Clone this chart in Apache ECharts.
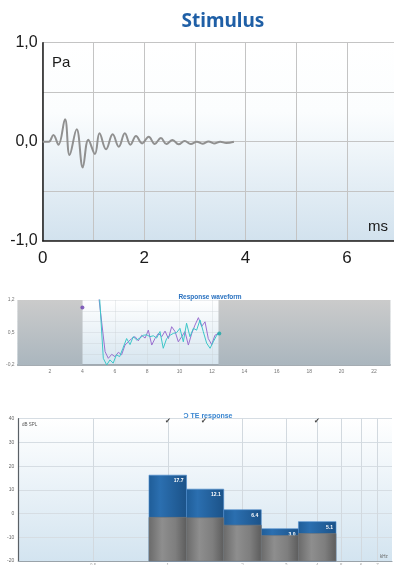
<!DOCTYPE html>
<html>
<head>
<meta charset="utf-8">
<style>html,body{margin:0;padding:0;background:#fff;}#c{width:394px;height:565px;}</style>
<script src="https://cdn.jsdelivr.net/npm/echarts@6/dist/echarts.min.js"></script>
</head>
<body>
<div id="c"></div>
<script>
// ---- Stimulus (top) ----
const stimTime = [0, 0.12, 0.21, 0.31, 0.44, 0.53, 0.67, 0.79, 0.90, 1.03, 1.12, 1.25, 1.38, 1.50, 1.62, 1.73, 1.84, 1.96, 2.09, 2.21, 2.33, 2.44, 2.56, 2.68, 2.80, 2.92, 3.04, 3.15, 3.27, 3.38, 3.50, 3.62, 3.77];
const stimPa   = [0, 0, 0.068, -0.03, 0.226, -0.134, 0.125, -0.26, 0.02, -0.124, 0.085, -0.077, 0.074, -0.05, 0.085, -0.03, 0.057, -0.017, 0.05, -0.023, 0.037, -0.023, 0.017, -0.027, 0.007, -0.023, 0.0, -0.02, 0.003, -0.017, 0.0, -0.013, 0.0];
const stimYTickLabels = {'-1': '-1,0', '0': '0,0', '1': '1,0'};

// ---- Response waveform (middle) ----
const respATime = [4.9, 5.40, 5.60, 5.81, 6.01, 6.22, 6.42, 6.63, 6.84, 7.04, 7.25, 7.45, 7.66, 7.87, 8.07, 8.28, 8.48, 8.69, 8.90, 9.10, 9.31, 9.51, 9.72, 9.92, 10.13, 10.33, 10.54, 10.75, 10.95, 11.16, 11.36, 11.57, 11.77, 11.98, 12.18, 12.39];
const respAmPa = [1.6, 0.087, -0.056, 0.03, -0.02, 0.073, 0.02, 0.23, 0.30, 0.37, 0.41, 0.32, 0.44, 0.38, 0.55, 0.23, 0.37, 0.48, 0.41, 0.53, 0.37, 0.625, 0.52, 0.30, 0.41, 0.52, 0.23, 0.48, 0.66, 0.82, 0.63, 0.73, 0.37, 0.24, 0.44, 0.48];
const respBTime = [5.0, 5.29, 5.50, 5.70, 5.90, 6.10, 6.30, 6.50, 6.73, 6.94, 7.14, 7.35, 7.55, 7.76, 7.97, 8.17, 8.38, 8.58, 8.79, 8.99, 9.20, 9.41, 9.61, 9.82, 10.02, 10.23, 10.43, 10.64, 10.85, 11.05, 11.26, 11.46, 11.67, 11.88, 12.08, 12.29, 12.45];
const respBmPa = [1.6, -0.056, -0.2, -0.09, -0.16, 0.02, -0.02, 0.16, 0.37, 0.24, 0.41, 0.34, 0.38, 0.44, 0.45, 0.41, 0.43, 0.38, 0.52, 0.16, 0.37, 0.44, 0.48, 0.50, 0.59, 0.30, 0.70, 0.41, 0.59, 0.55, 0.77, 0.52, 0.27, 0.16, 0.30, 0.44, 0.48];
const respMarkerA = [4.0, 1.04];
const respMarkerB = [12.45, 0.48];
const respWindow = [4.0, 12.4];
const respYTickLabels = ['-0,2', '0,5', '1,2'];
const respXTicks = [2, 4, 6, 8, 10, 12, 14, 16, 18, 20, 22];

// ---- TE response (bottom) ----
const bandEdges = [0.84, 1.19, 1.68, 2.38, 3.36, 4.76];
const responseDb = [16.2, 10.3, 1.6, -6.4, -3.4];
const noiseDb = [-1.6, -1.8, -4.9, -9.3, -8.4];
const snrLabels = ['17.7', '12.1', '6.4', '3.0', '5.1'];
const freqGrid = [0.5, 1, 2, 3, 4, 5, 6, 7];
const freqGridLabels = ['0.5', '1', '2', '3', '4', '5', '6', '7'];
const passFreqs = [1, 1.4, 4];

const G = echarts.graphic;
const chart = echarts.init(document.getElementById('c'), null, {renderer: 'canvas'});

function zip(a, b) { return a.map((v, i) => [v, b[i]]); }

const bandData = responseDb.map((v, i) => [bandEdges[i], bandEdges[i + 1], v, i]);
const noiseData = noiseDb.map((v, i) => [bandEdges[i], bandEdges[i + 1], v, i]);

function barRenderer(kind) {
  return function (params, api) {
    const lo = api.value(0), hi = api.value(1), top = api.value(2), idx = api.value(3);
    const p0 = api.coord([lo, top]);
    const p1 = api.coord([hi, -20]);
    const w = p1[0] - p0[0], h = p1[1] - p0[1];
    const fill = kind === 'resp'
      ? new G.LinearGradient(0, 0, 1, 0, [{offset: 0, color: '#1f5d98'}, {offset: 0.3, color: '#2b6fb0'}, {offset: 1, color: '#1b5288'}])
      : new G.LinearGradient(0, 0, 1, 0, [{offset: 0, color: '#6a6a6a'}, {offset: 0.35, color: '#8e8e8e'}, {offset: 0.7, color: '#7e7e7e'}, {offset: 1, color: '#5c5c5c'}]);
    const children = [{
      type: 'rect',
      shape: {x: p0[0], y: p0[1], width: w, height: h},
      style: {fill: fill, stroke: kind === 'resp' ? '#4b8ccc' : '#777', lineWidth: 0.6}
    }];
    if (kind === 'resp') {
      children.push({
        type: 'text',
        style: {text: snrLabels[idx], x: p1[0] - 3, y: p0[1] + 3, align: 'right', verticalAlign: 'top',
          fill: '#ffffff', font: 'bold 5px "Liberation Sans", Arial, sans-serif'}
      });
    }
    return {type: 'group', children: children};
  };
}

const option = {
  animation: false,
  backgroundColor: '#ffffff',
  title: [
    {text: 'Stimulus', left: 218, top: 7, textAlign: 'center',
      textStyle: {color: '#1f5fa6', fontSize: 19, fontWeight: 'bold', fontFamily: '"Noto Sans", "DejaVu Sans", sans-serif'}},
    {text: 'Response waveform', left: 205, top: 289, textAlign: 'center',
      textStyle: {color: '#2a72c0', fontSize: 6.5, fontWeight: 'bold', fontFamily: '"Liberation Sans", Arial, sans-serif'}},
    {text: 'Ɔ TE response', left: 203, top: 408, textAlign: 'center',
      textStyle: {color: '#3a86d0', fontSize: 7, fontWeight: 'bold', fontFamily: '"Liberation Sans", Arial, sans-serif'}}
  ],
  grid: [
    {left: 42.7, width: 355, top: 42.7, height: 198, show: true, borderWidth: 0, outerBoundsMode: 'none', containLabel: false,
      backgroundColor: new G.LinearGradient(0, 0, 0, 1, [{offset: 0, color: '#ffffff'}, {offset: 0.35, color: '#fbfdfe'}, {offset: 1, color: '#d2e2ee'}])},
    {left: 17.6, right: 3.8, top: 300, height: 65, show: true, borderWidth: 0, outerBoundsMode: 'none', containLabel: false,
      backgroundColor: new G.LinearGradient(0, 0, 0, 1, [{offset: 0, color: '#ffffff'}, {offset: 1, color: '#d6e5ef'}])},
    {left: 18.3, right: 2, top: 418.7, height: 142.3, show: true, borderWidth: 0, outerBoundsMode: 'none', containLabel: false,
      backgroundColor: new G.LinearGradient(0, 0, 0, 1, [{offset: 0, color: '#ffffff'}, {offset: 1, color: '#d3e4f0'}])}
  ],
  xAxis: [
    {gridIndex: 0, type: 'value', min: 0, max: 7, interval: 1,
      axisLine: {show: true, onZero: false, lineStyle: {color: '#1a1a1a', width: 1.5}},
      axisTick: {show: false},
      splitLine: {show: true, lineStyle: {color: '#c4c4c4', width: 1}},
      axisLabel: {margin: 9, color: '#1a1a1a', fontSize: 17, fontFamily: '"Liberation Sans", Arial, sans-serif',
        formatter: v => (v % 2 === 0 ? String(v) : '')}},
    {gridIndex: 1, type: 'value', min: 0, max: 23, interval: 2,
      axisLine: {show: true, onZero: false, lineStyle: {color: '#8e979e', width: 1.5}},
      axisTick: {show: false},
      splitLine: {show: true, lineStyle: {color: 'rgba(200,205,210,0.55)', width: 0.6}},
      axisLabel: {margin: 4, color: '#777', fontSize: 5, fontFamily: '"Liberation Sans", Arial, sans-serif',
        formatter: v => (respXTicks.indexOf(v) >= 0 ? String(v) : '')}},
    {gridIndex: 2, type: 'log', logBase: 2, min: 0.25, max: 8,
      axisLine: {show: true, onZero: false, lineStyle: {color: '#9aa3aa', width: 1.2}},
      axisTick: {show: false}, splitLine: {show: false}, axisLabel: {show: false}}
  ],
  yAxis: [
    {gridIndex: 0, type: 'value', min: -1, max: 1, interval: 0.5,
      axisLine: {show: true, onZero: false, lineStyle: {color: '#1a1a1a', width: 1.5}},
      axisTick: {show: false},
      splitLine: {show: true, lineStyle: {color: '#c4c4c4', width: 1}},
      axisLabel: {margin: 5, color: '#1a1a1a', fontSize: 16, fontFamily: '"Liberation Sans", Arial, sans-serif',
        formatter: v => (stimYTickLabels[String(v)] || '')}},
    {gridIndex: 1, type: 'value', min: -0.2, max: 1.2, show: false, position: 'right', splitLine: {show: false}},
    {gridIndex: 1, type: 'value', min: 0, max: 6, interval: 1, position: 'left',
      axisLine: {show: false, onZero: false}, axisTick: {show: false},
      splitLine: {show: true, lineStyle: {color: 'rgba(200,205,210,0.6)', width: 0.6}},
      axisLabel: {margin: 3, color: '#777', fontSize: 5, fontFamily: '"Liberation Sans", Arial, sans-serif',
        formatter: v => (v === 0 ? respYTickLabels[0] : v === 3 ? respYTickLabels[1] : v === 6 ? respYTickLabels[2] : '')}},
    {gridIndex: 2, type: 'value', min: -20, max: 40, interval: 10,
      axisLine: {show: true, onZero: false, lineStyle: {color: '#5a6066', width: 1.2}},
      axisTick: {show: false},
      splitLine: {show: true, lineStyle: {color: '#d6dde3', width: 1}},
      axisLabel: {margin: 4, color: '#666', fontSize: 5, fontFamily: '"Liberation Sans", Arial, sans-serif'}}
  ],
  series: [
    {type: 'line', xAxisIndex: 0, yAxisIndex: 0, data: zip(stimTime, stimPa), smooth: 0.4,
      showSymbol: false, symbol: 'none', lineStyle: {color: '#909090', width: 2}},
    {type: 'line', xAxisIndex: 1, yAxisIndex: 1, data: zip(respATime, respAmPa), showSymbol: false, symbol: 'none',
      lineStyle: {color: '#9a70d0', width: 1}, z: 4,
      markArea: {silent: true,
        itemStyle: {color: new G.LinearGradient(0, 0, 0, 1, [{offset: 0, color: '#cbcbcb'}, {offset: 1, color: '#aab6be'}])},
        data: [[{xAxis: 0}, {xAxis: respWindow[0]}], [{xAxis: respWindow[1]}, {xAxis: 23}]]}},
    {type: 'line', xAxisIndex: 1, yAxisIndex: 1, data: zip(respBTime, respBmPa), showSymbol: false, symbol: 'none',
      lineStyle: {color: '#3cc6c8', width: 1}, z: 5},
    {type: 'scatter', xAxisIndex: 1, yAxisIndex: 1, data: [respMarkerA], symbolSize: 4, itemStyle: {color: '#6a3fb0'}, z: 6},
    {type: 'scatter', xAxisIndex: 1, yAxisIndex: 1, data: [respMarkerB], symbolSize: 4, itemStyle: {color: '#1aa7a8'}, z: 6},
    {type: 'custom', xAxisIndex: 2, yAxisIndex: 3, data: bandData, renderItem: barRenderer('resp'), z: 3,
      markLine: {silent: true, symbol: 'none', z: 1,
        lineStyle: {color: '#d2d9df', width: 1, type: 'solid'},
        label: {show: true, position: 'start', formatter: p => freqGridLabels[p.dataIndex], color: '#aaa', fontSize: 4.5, distance: 2},
        data: freqGrid.map(f => ({xAxis: f}))}},
    {type: 'custom', xAxisIndex: 2, yAxisIndex: 3, data: noiseData, renderItem: barRenderer('noise'), z: 4},
    {type: 'scatter', xAxisIndex: 2, yAxisIndex: 3, data: passFreqs.map(f => [f, 39.2]), symbolSize: 0,
      label: {show: true, formatter: '✔', color: '#111', fontSize: 7, position: 'inside'}, z: 6}
  ],
  graphic: [
    {type: 'text', left: 52, top: 55, style: {text: 'Pa', fill: '#1a1a1a', font: '15px "Liberation Sans", Arial, sans-serif'}},
    {type: 'text', left: 368, top: 219, style: {text: 'ms', fill: '#1a1a1a', font: '15px "Liberation Sans", Arial, sans-serif'}},
    {type: 'text', left: 21, top: 304, style: {text: 'mPa', fill: '#555', font: '4.5px "Liberation Sans", Arial, sans-serif'}},
    {type: 'text', left: 383, top: 358, style: {text: 'ms', fill: '#666', font: '4.5px "Liberation Sans", Arial, sans-serif'}},
    {type: 'text', left: 22, top: 422, style: {text: 'dB SPL', fill: '#555', font: '4.5px "Liberation Sans", Arial, sans-serif'}},
    {type: 'text', left: 380, top: 554, style: {text: 'kHz', fill: '#666', font: '4.5px "Liberation Sans", Arial, sans-serif'}}
  ]
};
chart.setOption(option);
</script>
</body>
</html>
